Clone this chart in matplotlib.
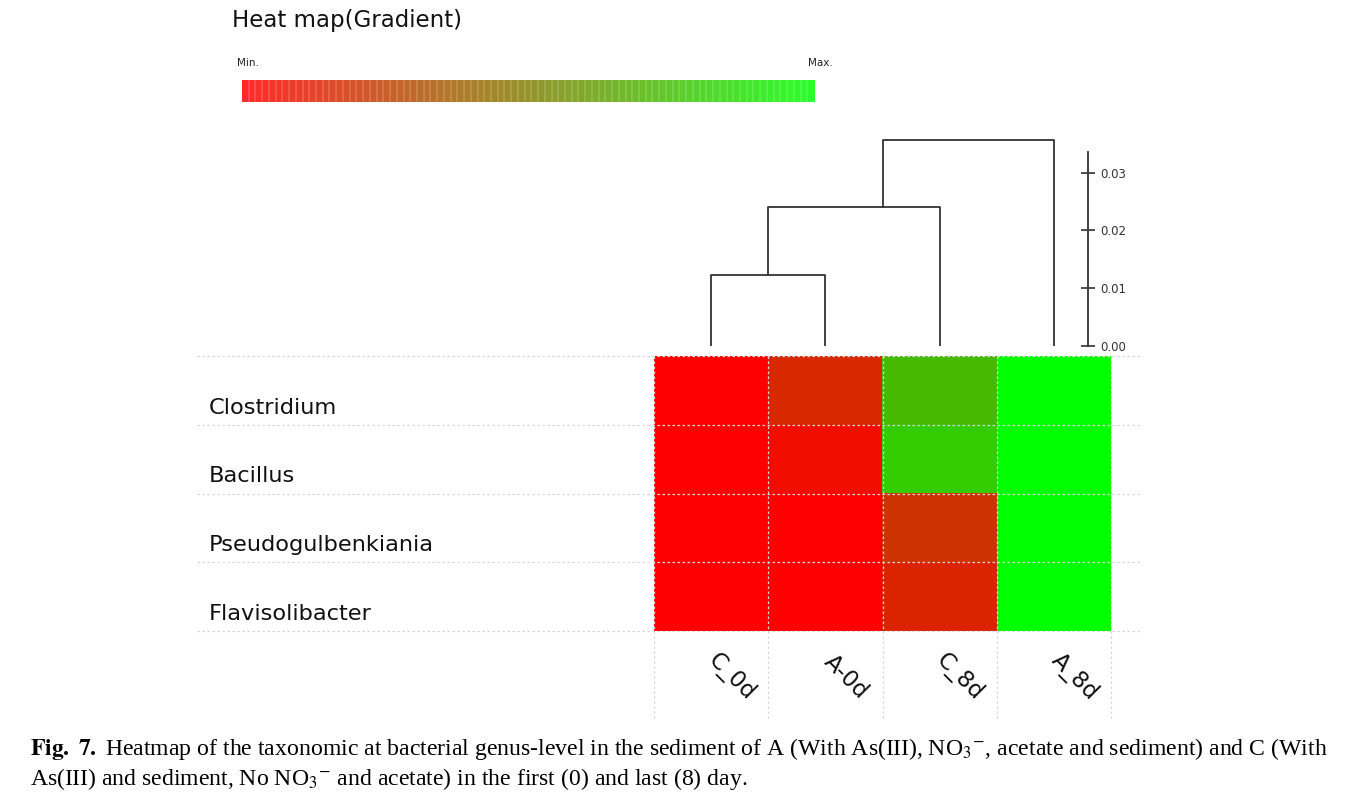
import matplotlib
matplotlib.use("Agg")
import matplotlib.pyplot as plt
import numpy as np
from matplotlib.colors import LinearSegmentedColormap

# ---- data ----
genera = ["Clostridium", "Bacillus", "Pseudogulbenkiania", "Flavisolibacter"]
samples = ["C_0d", "A-0d", "C_8d", "A_8d"]
# relative (min->max) intensity per genus across samples
clostridium = [0.00, 0.16, 0.73, 1.00]
bacillus = [0.00, 0.05, 0.80, 1.00]
pseudogulbenkiania = [0.00, 0.00, 0.20, 1.00]
flavisolibacter = [0.00, 0.00, 0.14, 1.00]
# dendrogram merge heights (distance)
merge_heights = [0.0122, 0.0240, 0.0357]
scale_ticks = [0.00, 0.01, 0.02, 0.03]

values = np.array([clostridium, bacillus, pseudogulbenkiania, flavisolibacter])

W, H = 1347, 801
fig = plt.figure(figsize=(W / 100, H / 100), dpi=100)
fig.patch.set_facecolor("white")
plt.rcParams["mathtext.fontset"] = "stix"

def fx(px):
    return px / W

def fy(py):
    return 1 - py / H

cmap = LinearSegmentedColormap.from_list("rg", ["#ff0000", "#00ff00"])
bar_cmap = LinearSegmentedColormap.from_list("rg2", ["#ff2a2a", "#2cff2c"])

# ---- heatmap ----
hx0, hx1, hy0, hy1 = 654, 1111, 356, 631
ax = fig.add_axes([fx(hx0), fy(hy1), fx(hx1 - hx0), (hy1 - hy0) / H])
ax.imshow(values, cmap=cmap, vmin=0, vmax=1, aspect="auto",
          extent=(0, 4, 4, 0), interpolation="nearest")
ax.set_xlim(0, 4)
ax.set_ylim(4, 0)
ax.axis("off")
colw = (hx1 - hx0) / 4
rowh = (hy1 - hy0) / 4
grid_kw = dict(color="#d8d8d8", lw=0.9, ls=(0, (2, 2)), clip_on=False)
xl = (197 - hx0) / colw
xr = 4 + (1140 - hx1) / colw
for r in range(5):
    ax.plot([xl, xr], [r, r], **grid_kw)
yb = 4 + (720 - hy1) / rowh
for c in range(5):
    ax.plot([c, c], [0, yb], **grid_kw)

for i, g in enumerate(genera):
    ax.text((209 - hx0) / colw, i + 0.75, g, ha="left", va="center",
            fontsize=16.2, family="DejaVu Sans", color="#111111")
for j, s in enumerate(samples):
    ax.text(j + 0.5 + 0.18, 4 + 0.67, s, ha="center", va="center",
            rotation=-45, rotation_mode="anchor", fontsize=16.5,
            family="DejaVu Sans", color="#111111")

# ---- dendrogram ----
base = 345.7
pxu = 5770.0  # pixels per distance unit
dtop = 0.04
dax = fig.add_axes([fx(hx0), fy(base), fx(hx1 - hx0), dtop * pxu / H])
dax.set_xlim(0, 4)
dax.set_ylim(0, dtop)
dax.axis("off")
lk = dict(color="#333333", lw=1.3)
leaf = [0.5, 1.5, 2.5, 3.5]
h1, h2, h3 = merge_heights
# cluster 1: C_0d + A-0d
dax.plot([leaf[0], leaf[0], leaf[1], leaf[1]], [0, h1, h1, 0], **lk)
c1 = (leaf[0] + leaf[1]) / 2
# cluster 2: cluster1 + C_8d
dax.plot([c1, c1, leaf[2], leaf[2]], [h1, h2, h2, 0], **lk)
c2 = (leaf[1] + leaf[2]) / 2
# cluster 3: cluster2 + A_8d
dax.plot([c2, c2, leaf[3], leaf[3]], [h2, h3, h3, 0], **lk)

# scale bar
smax = 0.0336
sax = fig.add_axes([fx(1088), fy(base), 0.0001, smax * pxu / H])
sax.set_ylim(0, smax)
sax.set_xticks([])
for sp in ["top", "bottom", "right"]:
    sax.spines[sp].set_visible(False)
sax.spines["left"].set_color("#333333")
sax.spines["left"].set_linewidth(1.3)
sax.set_yticks(scale_ticks)
sax.set_yticklabels([f"{t:.2f}" for t in scale_ticks])
sax.tick_params(axis="y", direction="inout", length=10, width=1.2,
                color="#333333", left=True, right=False,
                labelleft=False, labelright=True, labelsize=8.5,
                labelcolor="#333333", pad=4)
for lab in sax.get_yticklabels():
    lab.set_verticalalignment("center_baseline")
sax.patch.set_visible(False)

# ---- gradient legend ----
fig.text(fx(232), fy(21), "Heat map(Gradient)", fontsize=16.5,
         family="DejaVu Sans", color="#111111", ha="left", va="center")
fig.text(fx(237), fy(63), "Min.", fontsize=7.5, family="DejaVu Sans",
         color="#222222", ha="left", va="center")
fig.text(fx(808), fy(63), "Max.", fontsize=7.5, family="DejaVu Sans",
         color="#222222", ha="left", va="center")
cax = fig.add_axes([fx(242), fy(102), fx(814 - 242), 22 / H])
nstep = 85
grad = np.linspace(0, 1, nstep)[None, :]
cax.imshow(grad, cmap=bar_cmap, aspect="auto", extent=(0, nstep, 0, 1),
           interpolation="nearest")
for k in range(1, nstep):
    cax.axvline(k, color="white", lw=1.2, alpha=0.18)
cax.set_xlim(0, nstep)
cax.axis("off")

# ---- caption ----
cap1 = (r"$\mathbf{Fig.\ 7.}\ $Heatmap of the taxonomic at bacterial genus-level in the "
        r"sediment of A (With As(III), NO$_{3}{}^{-}$, acetate and sediment) and C (With")
cap2 = r"As(III) and sediment, No NO$_{3}{}^{-}$ and acetate) in the first (0) and last (8) day."
fig.text(fx(30), fy(749), cap1, fontsize=17.1, family="Liberation Serif",
         ha="left", va="center", color="black")
fig.text(fx(30), fy(779), cap2, fontsize=17.1, family="Liberation Serif",
         ha="left", va="center", color="black")

fig.savefig("out.png", dpi=100, facecolor="white")
